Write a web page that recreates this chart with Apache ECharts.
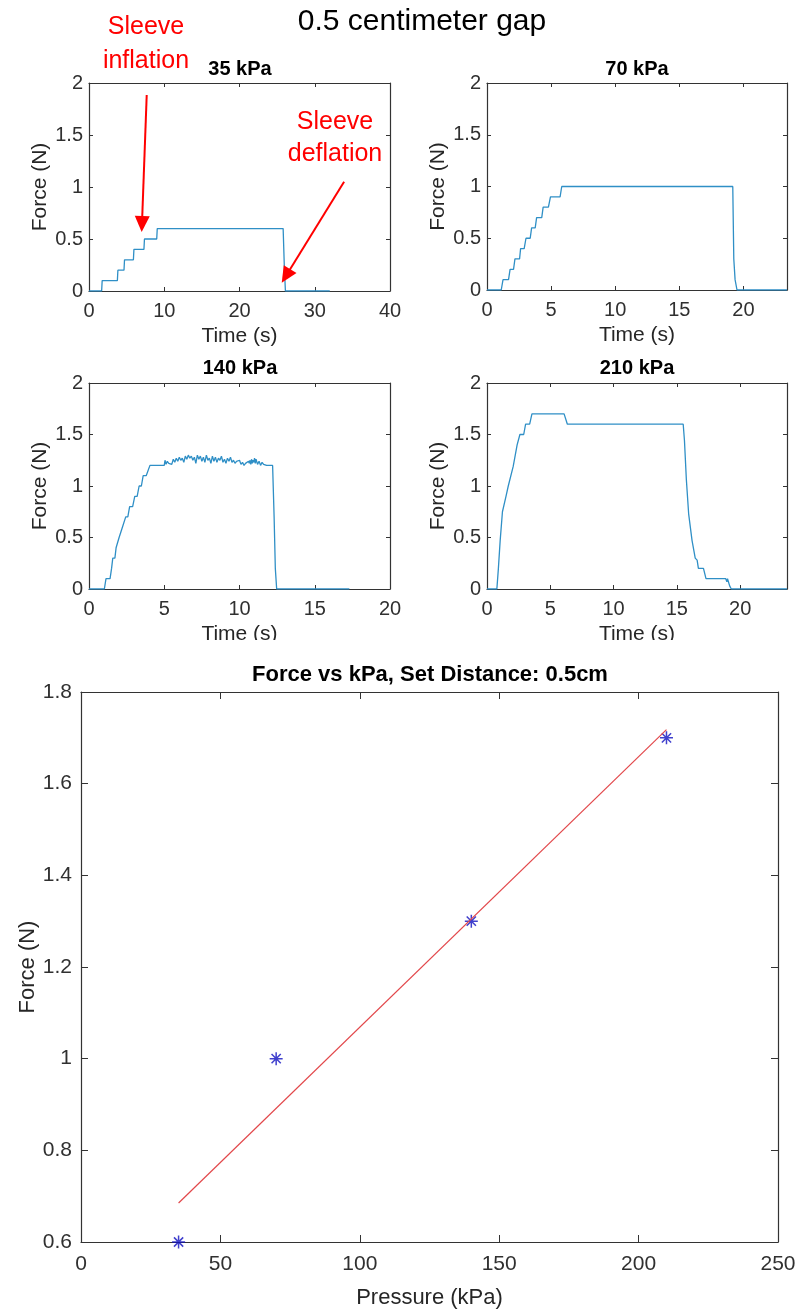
<!DOCTYPE html>
<html>
<head>
<meta charset="utf-8">
<script src="https://cdn.jsdelivr.net/npm/echarts@6/dist/echarts.min.js"></script>
<style>
  html, body { margin: 0; padding: 0; background: #fff; }
  #chart { width: 800px; height: 1313px; }
</style>
</head>
<body>
<div id="chart"></div>
<script>
// force traces, [time (s), force (N)]
const force35 = [[0, 0], [1.68, 0], [1.75, 0.1], [3.77, 0.1], [3.84, 0.2], [4.65, 0.2], [4.72, 0.3], [5.9, 0.3],
  [5.97, 0.4], [7.3, 0.4], [7.37, 0.5], [9.0, 0.5], [9.07, 0.6], [25.8, 0.6], [25.95, 0.25], [26.1, 0], [32.0, 0]];

const force70 = [[0, 0], [1.11, 0], [1.25, 0.1], [1.68, 0.1], [1.8, 0.2], [2.07, 0.2], [2.18, 0.3], [2.54, 0.3],
  [2.62, 0.4], [2.9, 0.4], [3.04, 0.5], [3.37, 0.5], [3.48, 0.6], [3.76, 0.6], [3.87, 0.7], [4.27, 0.7],
  [4.38, 0.8], [4.79, 0.8], [4.95, 0.9], [5.7, 0.9], [5.83, 1.0], [19.17, 1.0], [19.25, 0.3], [19.35, 0.1],
  [19.5, 0], [23.4, 0]];

const force140 = [[0, 0], [1.02, 0], [1.13, 0.1], [1.4, 0.1], [1.5, 0.2], [1.58, 0.3], [1.72, 0.3], [1.8, 0.4],
  [1.93, 0.4], [2.0, 0.5], [2.12, 0.5], [2.22, 0.6], [2.3, 0.6], [2.44, 0.7], [2.58, 0.7], [2.7, 0.8], [2.9, 0.8],
  [3.04, 0.9], [3.2, 0.9], [3.33, 1.0], [3.48, 1.0], [3.6, 1.1], [3.8, 1.1], [4.05, 1.2], [5.0, 1.2],
  [5.05, 1.25], [5.12, 1.21], [5.2, 1.24], [5.3, 1.22], [5.4, 1.23], [5.5, 1.21], [5.6, 1.26], [5.7, 1.23],
  [5.8, 1.27], [5.9, 1.24], [6.0, 1.28], [6.1, 1.25], [6.2, 1.27], [6.3, 1.23], [6.4, 1.29], [6.5, 1.26],
  [6.6, 1.3], [6.7, 1.27], [6.8, 1.29], [6.9, 1.25], [7.0, 1.28], [7.1, 1.22], [7.2, 1.3], [7.3, 1.26],
  [7.4, 1.29], [7.5, 1.24], [7.6, 1.28], [7.7, 1.23], [7.8, 1.3], [7.9, 1.25], [8.0, 1.27], [8.1, 1.22],
  [8.2, 1.29], [8.3, 1.24], [8.4, 1.28], [8.5, 1.23], [8.6, 1.27], [8.7, 1.25], [8.8, 1.29], [8.9, 1.23],
  [9.0, 1.26], [9.1, 1.22], [9.2, 1.27], [9.3, 1.24], [9.4, 1.28], [9.5, 1.23], [9.6, 1.25], [9.7, 1.22],
  [9.8, 1.24], [9.9, 1.23], [10.0, 1.25], [10.1, 1.21], [10.2, 1.23], [10.3, 1.2], [10.4, 1.22], [10.5, 1.21],
  [10.6, 1.24], [10.65, 1.22], [10.7, 1.25], [10.75, 1.21], [10.8, 1.26], [10.85, 1.22], [10.9, 1.25],
  [10.95, 1.23], [11.0, 1.27], [11.05, 1.22], [11.1, 1.26], [11.2, 1.21], [11.3, 1.24], [11.4, 1.2],
  [11.5, 1.23], [11.6, 1.21], [11.7, 1.22], [11.8, 1.2], [12.2, 1.2], [12.3, 0.7], [12.38, 0.2], [12.47, 0],
  [17.3, 0]];

const force210 = [[0, 0], [0.78, 0], [0.9, 0.2], [1.04, 0.47], [1.22, 0.75], [1.5, 0.9], [1.6, 0.9], [1.68, 1.0],
  [2.07, 1.19], [2.38, 1.4], [2.5, 1.4], [2.6, 1.5], [2.9, 1.5], [3.05, 1.6], [3.37, 1.6], [3.55, 1.7],
  [6.09, 1.7], [6.35, 1.6], [15.5, 1.6], [15.6, 1.44], [15.75, 1.06], [15.93, 0.73], [16.2, 0.47],
  [16.45, 0.3], [16.6, 0.28], [16.7, 0.2], [17.1, 0.2], [17.3, 0.1], [18.86, 0.1], [18.95, 0.07],
  [19.0, 0.1], [19.17, 0.03], [19.3, 0], [23.7, 0]];

const subTitles = ['35 kPa', '70 kPa', '140 kPa', '210 kPa'];
const subXMax = [40, 23.4, 20, 23.7];
const subXStep = [10, 5, 5, 5];

// summary plot
const pressureKPa = [35, 70, 140, 210];
const peakForce = [0.6, 1.0, 1.3, 1.7];
const fitLine = [[35, 0.685], [210, 1.718]];

// annotation arrows in 35 kPa data coords, [start, end]
const inflationArrow = [[7.67, 1.885], [7.04, 0.645]];
const deflationArrow = [[33.9, 1.05], [26.17, 0.145]];

const FONT = 'Liberation Sans, Arial, Helvetica, sans-serif';
const AXIS_COLOR = '#333';
const LINE_BLUE = '#2f8fc6';

const grids = [
  { left: 89, top: 83, width: 301, height: 208 },
  { left: 487, top: 83, width: 300, height: 207 },
  { left: 89, top: 383, width: 301, height: 206 },
  { left: 487, top: 383, width: 300, height: 206 },
  { left: 81, top: 692, width: 697, height: 550 },
];

// matlab style box axis
function boxAxis(opt) {
  return Object.assign({
    type: 'value',
    axisLine: { show: true, onZero: false, lineStyle: { color: AXIS_COLOR, width: 1.2 } },
    axisTick: { show: true, inside: true, length: 4, lineStyle: { color: AXIS_COLOR } },
    axisLabel: { show: false },
    splitLine: { show: false },
    nameMoveOverlap: false,
  }, opt);
}

const labelStyle = (size, margin) => ({
  show: true, color: '#303030', fontFamily: FONT, fontSize: size, margin: margin,
});
const nameStyle = (size) => ({ color: '#262626', fontFamily: FONT, fontSize: size });

const xAxes = [];
const yAxes = [];
const traces = [force35, force70, force140, force210];

for (let i = 0; i < 4; i++) {
  xAxes.push(boxAxis({
    gridIndex: i, min: 0, max: subXMax[i], interval: subXStep[i],
    axisLabel: Object.assign(labelStyle(20, 10), { showMaxLabel: subXMax[i] % subXStep[i] === 0 }),
    name: 'Time (s)', nameLocation: 'middle', nameGap: 35, nameTextStyle: nameStyle(21),
  }));
  yAxes.push(boxAxis({
    gridIndex: i, min: 0, max: 2, interval: 0.5,
    axisLabel: labelStyle(20, 6),
    name: 'Force (N)', nameLocation: 'middle', nameGap: 38, nameTextStyle: nameStyle(21),
  }));
}
xAxes.push(boxAxis({
  gridIndex: 4, min: 0, max: 250, interval: 50,
  axisTick: { show: true, inside: true, length: 7, lineStyle: { color: AXIS_COLOR } },
  axisLabel: labelStyle(21, 12),
  name: 'Pressure (kPa)', nameLocation: 'middle', nameGap: 45, nameTextStyle: nameStyle(22),
}));
yAxes.push(boxAxis({
  gridIndex: 4, min: 0.6, max: 1.8, interval: 0.2,
  axisTick: { show: true, inside: true, length: 7, lineStyle: { color: AXIS_COLOR } },
  axisLabel: Object.assign(labelStyle(21, 9), { formatter: v => String(+v.toFixed(1)) }),
  name: 'Force (N)', nameLocation: 'middle', nameGap: 42, nameTextStyle: nameStyle(22),
}));
// top and right sides of each box
for (let i = 0; i < 5; i++) {
  const bx = xAxes[i], by = yAxes[i];
  const tl = i === 4 ? 7 : 4;
  xAxes.push(boxAxis({ gridIndex: i, position: 'top', min: bx.min, max: bx.max, interval: bx.interval,
    axisTick: { show: true, inside: true, length: tl, lineStyle: { color: AXIS_COLOR } } }));
  yAxes.push(boxAxis({ gridIndex: i, position: 'right', min: by.min, max: by.max, interval: by.interval,
    axisTick: { show: true, inside: true, length: tl, lineStyle: { color: AXIS_COLOR } } }));
}

const series = traces.map((d, i) => ({
  type: 'line', xAxisIndex: i, yAxisIndex: i, data: d,
  showSymbol: false, symbol: 'none',
  lineStyle: { color: LINE_BLUE, width: 1.3 },
}));

series[0].markLine = {
  silent: true,
  symbol: ['none', 'triangle'],
  symbolSize: [15, 16],
  label: { show: false },
  lineStyle: { color: '#ff0000', width: 2, type: 'solid' },
  data: [inflationArrow, deflationArrow].map(a => [{ coord: a[0] }, { coord: a[1] }]),
};

series.push({
  type: 'line', xAxisIndex: 4, yAxisIndex: 4, data: fitLine,
  showSymbol: false, symbol: 'none',
  lineStyle: { color: '#e2474a', width: 1.2 },
});
series.push({
  type: 'scatter', xAxisIndex: 4, yAxisIndex: 4,
  data: pressureKPa.map((p, i) => [p, peakForce[i]]),
  symbol: 'path://M0,-10L0,10M-10,0L10,0M-7.1,-7.1L7.1,7.1M-7.1,7.1L7.1,-7.1',
  symbolSize: 13,
  itemStyle: { color: 'rgba(0,0,0,0)', borderColor: '#1010c0', borderWidth: 1.5 },
  clip: false,
});

const txt = (x, y, text, size, weight, color) => ({
  type: 'text', x: x, y: y, z: 100,
  style: { text: text, fontFamily: FONT, fontSize: size, fontWeight: weight || 'normal',
    fill: color || '#000', textAlign: 'center', textVerticalAlign: 'middle' },
});

const myChart = echarts.init(document.getElementById('chart'), null, { renderer: 'canvas' });
myChart.setOption({
  animation: false,
  backgroundColor: '#fff',
  grid: grids,
  xAxis: xAxes,
  yAxis: yAxes,
  series: series,
  graphic: [
    // lower pair's x labels are cut off in the source figure
    { type: 'rect', z: 99, shape: { x: 0, y: 640, width: 800, height: 22 }, style: { fill: '#fff' } },
    txt(422, 22, '0.5 centimeter gap', 30),
    txt(240, 69, subTitles[0], 20, 'bold'),
    txt(637, 69, subTitles[1], 20, 'bold'),
    txt(240, 368, subTitles[2], 20, 'bold'),
    txt(637, 368, subTitles[3], 20, 'bold'),
    txt(430, 675, 'Force vs kPa, Set Distance: 0.5cm', 22, 'bold'),
    txt(146, 27, 'Sleeve', 25, 'normal', '#ff0000'),
    txt(146, 61, 'inflation', 25, 'normal', '#ff0000'),
    txt(335, 122, 'Sleeve', 25, 'normal', '#ff0000'),
    txt(335, 154, 'deflation', 25, 'normal', '#ff0000'),
  ],
});
</script>
</body>
</html>
